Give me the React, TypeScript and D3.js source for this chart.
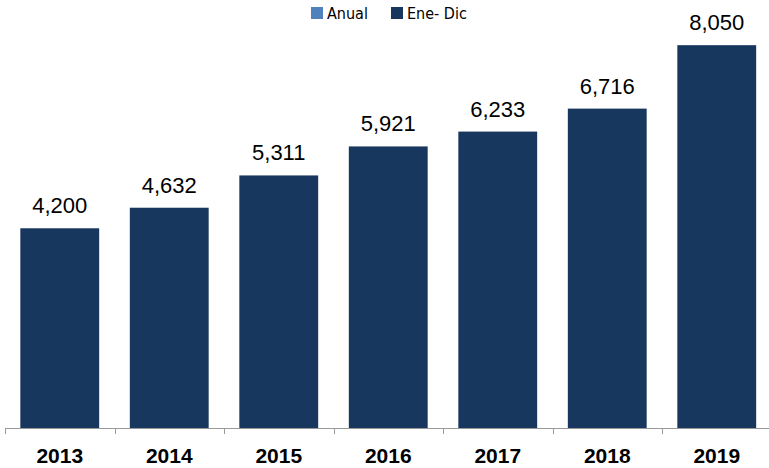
import React from "react";
import * as d3 from "d3";

const years = ["2013", "2014", "2015", "2016", "2017", "2018", "2019"];
const values = [4200, 4632, 5311, 5921, 6233, 6716, 8050];
const legendItems = ["Anual", "Ene- Dic"];
const legendColors = ["#4F81BD", "#17375E"];

export default function App() {
  const W = 769, H = 468;
  const x = d3.scaleBand<string>().domain(years).range([5, 771.5]).paddingInner(0.28).paddingOuter(0.14);
  const y = d3.scaleLinear().domain([0, 9000]).range([428, 0]);
  const fmt = d3.format(",");
  const step = x.step();
  const ticks = years.map((_, i) => 5 + i * step);
  return (
    <svg width={W} height={H} style={{ position: "absolute", left: 0, top: 0 }}>
      <rect width={W} height={H} fill="#fff" />
      {years.map((yr, i) => (
        <g key={yr}>
          <rect x={x(yr)} y={y(values[i])} width={x.bandwidth()} height={428 - y(values[i])} fill="#17375E" />
          <text x={x(yr)! + x.bandwidth() / 2} y={y(values[i]) - 15} textAnchor="middle" fontFamily="Liberation Sans, Arial, sans-serif" fontSize={22} fill="#000">
            {fmt(values[i])}
          </text>
          <text x={x(yr)! + x.bandwidth() / 2} y={463} textAnchor="middle" fontFamily="Liberation Sans, Arial, sans-serif" fontWeight="bold" fontSize={21} fill="#000">
            {yr}
          </text>
        </g>
      ))}
      <line x1={5} x2={W} y1={428.5} y2={428.5} stroke="#999" strokeWidth={1} />
      {ticks.map((t, i) => (
        <line key={i} x1={Math.round(t) + 0.5} x2={Math.round(t) + 0.5} y1={428} y2={434} stroke="#999" strokeWidth={1} />
      ))}
      <g fontFamily="DejaVu Sans Condensed, DejaVu Sans, sans-serif" fontSize={16} fontStretch="condensed">
        <rect x={311} y={7} width={12} height={12} fill={legendColors[0]} />
        <text x={327} y={19}>{legendItems[0]}</text>
        <rect x={391} y={7} width={12} height={12} fill={legendColors[1]} />
        <text x={407} y={19}>{legendItems[1]}</text>
      </g>
    </svg>
  );
}
